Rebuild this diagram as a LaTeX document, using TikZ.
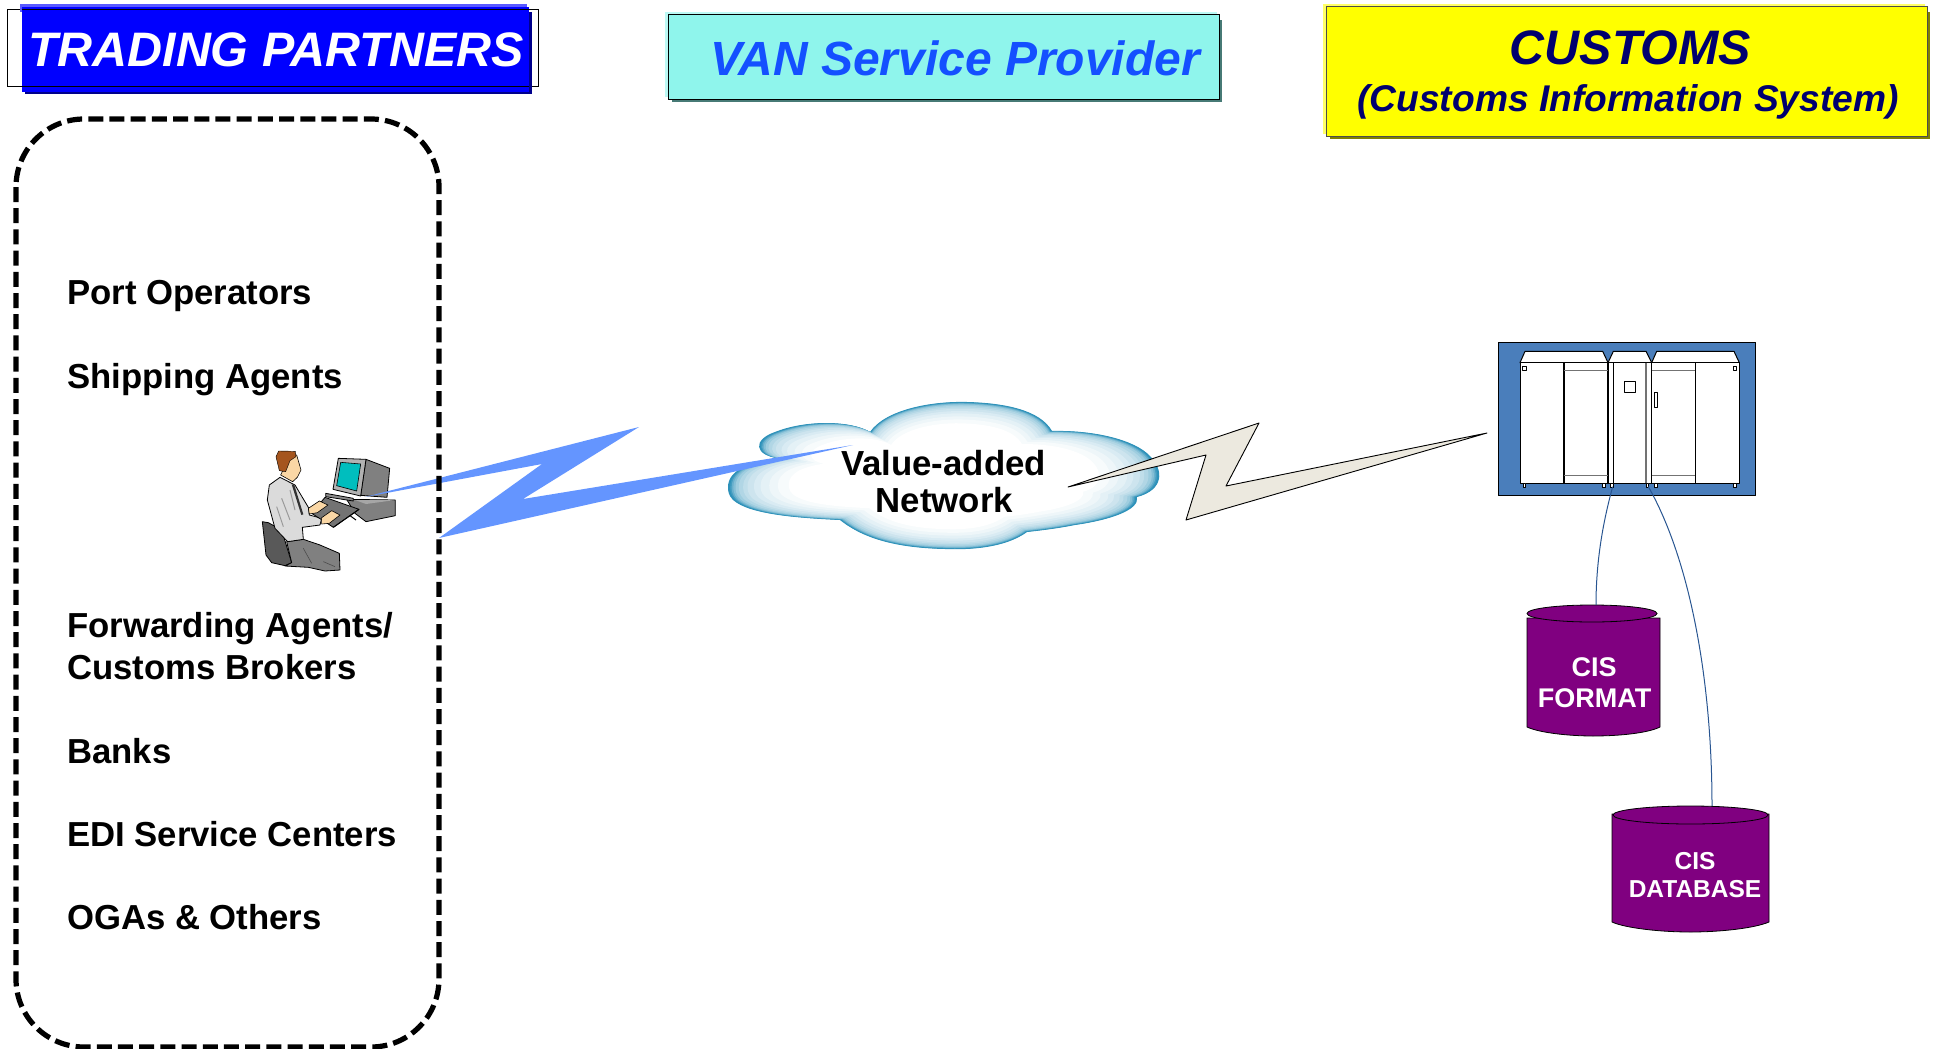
\documentclass[tikz,border=0pt]{standalone}
\usepackage{fontspec}
\setmainfont{Liberation Sans}
\definecolor{cloudedge}{RGB}{45,145,185}
\definecolor{boltblue}{RGB}{100,149,255}
\definecolor{boltgrey}{RGB}{236,233,223}
\definecolor{srvblue}{RGB}{74,126,187}
\definecolor{vanfill}{RGB}{143,245,236}
\definecolor{vantext}{RGB}{20,80,255}
\definecolor{custtext}{RGB}{0,0,110}
\definecolor{cylpurple}{RGB}{128,0,128}
\definecolor{linkblue}{RGB}{40,85,145}
\definecolor{pureyellow}{RGB}{255,255,0}
\definecolor{screenteal}{RGB}{0,190,190}
\definecolor{skin}{RGB}{250,215,165}
\definecolor{hair}{RGB}{165,85,30}
\newcommand{\fs}[1]{\fontsize{#1}{#1}\selectfont}
\tikzset{
  lab/.style={anchor=base west,inner sep=0pt,font=\fs{34.7}\bfseries,text=black},
  title/.style={anchor=base,inner sep=0pt,font=\fs{48.4}\bfseries\itshape},
  cyltxt/.style={anchor=base,inner sep=0pt,text=white},
  cyl/.style={fill=cylpurple,draw=black,line width=.8pt},
  link/.style={draw=linkblue,line width=1pt},
  ol/.style={draw=black,line width=.9pt,line join=round},
  srvline/.style={draw=black,line width=1pt},
  foot/.style={draw=black,fill=white,line width=.6pt}
}
\begin{document}
\begin{tikzpicture}[x=1pt,y=-1pt]
\useasboundingbox (0,0) rectangle (1933,1049);
% title boxes
\draw[black,line width=.8pt,fill=white] (7.5,9) rectangle (538,86.3);
\fill[blue!55!black] (25,12) rectangle (532,94);
\fill[blue!65!white] (20,4) rectangle (527,12);
\fill[blue] (22,7) rectangle (529,92);
\draw[black,line width=.8pt] (22,9) -- (529,9) (22,86.3) -- (529,86.3);
\node[title,text=white] (tp) at (276,66.5) {TRADING PARTNERS};

\fill[vanfill!60!white] (665,12) rectangle (1217,97);
\fill[vanfill!50!black] (672,20) rectangle (1222,101.7);
\draw[fill=vanfill,draw=black,line width=.9pt] (668,14.3) rectangle (1219,99.3);
\node[title,font=\fs{48}\bfseries\itshape,text=vantext] (van) at (955,76) {VAN Service Provider};

\fill[pureyellow!60!white] (1323,4) rectangle (1925,134);
\fill[pureyellow!50!black] (1330,12) rectangle (1930,138.5);
\draw[fill=pureyellow,draw=black!70,line width=1pt] (1326,6.7) rectangle (1927,136);
\node[title,text=custtext] (cust) at (1630.5,64) {CUSTOMS};
\node[anchor=base,inner sep=0pt,font=\fs{37.2}\bfseries\itshape,text=custtext] (cis) at (1628,111.7) {(Customs Information System)};

% cloud
\foreach \s/\p in {1/100,.995/100,.99/90,.983/72,.975/58,.965/46,.95/37,.93/30,.91/24,.88/18,.85/13,.81/8,.77/4,.72/0}{
\begin{scope}[shift={(945,478)},scale=\s,shift={(-945,-478)}]
\fill[cloudedge!\p!white] (728,487)
 .. controls (728,470) and (750,462) .. (777,458)
 .. controls (755,455) and (752,440) .. (775,432)
 .. controls (805,420) and (850,420) .. (870,432)
 .. controls (885,410) and (930,401) .. (967,402)
 .. controls (1005,403) and (1040,410) .. (1052,431)
 .. controls (1095,430) and (1135,440) .. (1150,456)
 .. controls (1164,470) and (1164,490) .. (1137,497)
 .. controls (1140,510) and (1110,520) .. (1075,525)
 .. controls (1060,528) and (1045,530) .. (1027,532)
 .. controls (1005,548) and (970,550) .. (945,549)
 .. controls (900,548) and (865,540) .. (840,520)
 .. controls (800,518) and (750,515) .. (733,500)
 .. controls (728,495) and (728,490) .. cycle;
\end{scope}}

% operator clip art
\begin{scope}[shift={(240,420)},x=.33333pt,y=-.33333pt,line join=round]
% chair
\fill[black!65,draw=black,line width=.8pt] (67,305) -- (85,308) -- (125,330) -- (155,428) -- (135,437) -- (95,428) -- (78,405) -- cycle;
% trousers
\fill[black!50,draw=black,line width=.8pt] (140,365) -- (190,358) -- (240,375) -- (298,400) -- (300,450) -- (255,453) -- (205,442) -- (135,438) -- (155,428) -- cycle;
\draw[black!70,line width=.6pt] (250,425) -- (285,440) (190,385) -- (215,430);
% shirt
\fill[black!14,draw=black,line width=.8pt] (120,172) -- (88,195) -- (82,240) -- (105,325) -- (143,365) -- (190,358) -- (187,322) -- (240,315) -- (245,295) -- (208,285) -- (205,262) -- (165,195) -- cycle;
\draw[black!40,line width=1pt] (125,235) -- (150,300) (150,210) -- (165,270) (110,260) -- (130,320);
\fill[black!80] (155,193) -- (163,195) -- (190,283) -- (184,285) -- cycle;
% head
\fill[skin,draw=black,line width=.6pt] (150,105) -- (170,105) -- (183,150) -- (172,172) -- (158,185) -- (122,165) -- cycle;
\fill[hair,draw=black,line width=.4pt] (108,110) -- (116,93) -- (166,94) -- (168,110) -- (150,122) -- (137,155) -- (118,152) -- cycle;
% monitor
\fill[black!50,draw=black,line width=.8pt] (378,118) -- (449,145) -- (441,232) -- (362,226) -- cycle;
\fill[black!30,draw=black,line width=.8pt] (295,115) -- (378,118) -- (362,228) -- (279,208) -- cycle;
\fill[screenteal,draw=black,line width=.6pt] (302,127) -- (362,132) -- (350,213) -- (290,197) -- cycle;
% base box
\fill[black!50,draw=black,line width=.8pt] (320,238) -- (466,240) -- (466,287) -- (378,305) -- (345,280) -- cycle;
\fill[black!35] (345,240) -- (466,240) -- (378,252) -- cycle;
% keyboard tray
\fill[black!45,draw=black,line width=.8pt] (257,220) -- (340,235) -- (340,243) -- (257,230) -- cycle;
\fill[black!55,draw=black,line width=.8pt] (255,232) -- (357,268) -- (280,322) -- (265,312) -- (215,280) -- cycle;
\draw[black,line width=1pt] (357,268) -- (280,322) (330,287) -- (348,300);
% hands
\fill[skin,draw=black,line width=.6pt] (205,265) -- (238,243) -- (264,255) -- (232,278) -- (208,282) -- cycle;
\fill[skin,draw=black,line width=.6pt] (245,293) -- (275,272) -- (300,285) -- (268,310) -- (245,312) -- cycle;
\end{scope}
\coordinate (pc) at (365,497);

% server
\begin{scope}[shift={(1480,330)},x=.33333pt,y=-.33333pt,line join=round]
\fill[srvblue,draw=black,line width=.8pt] (54,36) rectangle (827,497);
\fill[white,srvline] (120,98) -- (135,64) -- (368,64) -- (384,98) -- cycle;
\fill[white,srvline] (384,98) -- (400,64) -- (498,64) -- (515,98) -- cycle;
\fill[white,srvline] (515,98) -- (530,64) -- (762,64) -- (778,98) -- cycle;
\fill[white,srvline] (120,98) rectangle (778,460);
\draw[srvline,line width=1.3pt] (252,98) -- (252,460) (384,98) -- (384,460) (400,98) -- (400,460) (515,98) -- (515,460) (646,98) -- (646,460);
\draw[black!55,line width=1.8pt] (498,98) -- (498,460);
\draw[black!55,line width=1pt] (252,120) -- (384,120) (515,120) -- (646,120) (252,436) -- (384,436) (515,436) -- (646,436);
\draw[foot] (432,153) rectangle (467,188);
\draw[foot] (523,187) rectangle (531,233);
\foreach \a in {133,765}{\draw[foot] (\a-5,108) rectangle (\a+5,120);}
\foreach \a in {133,371,396,502,527,765}{\draw[foot] (\a-4,459) rectangle (\a+4,471);}
\coordinate (foota) at (398,470);
\coordinate (footb) at (505,470);
\end{scope}

% bolts
\coordinate (cloudl) at (853,445);
\coordinate (cloudr) at (1068,487);
\coordinate (srvtip) at (1487,433);
\fill[boltblue] (pc) -- (639,427) -- (523,499) -- (cloudl) -- (439,538) -- (542,464) -- cycle;
\filldraw[fill=boltgrey,ol] (cloudr) -- (1259,423) -- (1226,486) -- (srvtip) -- (1186,520) -- (1206,455) -- cycle;

% dashed box
\draw[black,line width=5.2pt,dash pattern=on 15pt off 6.2pt,rounded corners=68pt] (16,119) rectangle (439,1047);
\node[lab] (l1) at (67,304) {Port Operators};
\node[lab] (l2) at (67,388) {Shipping Agents};
\node[lab] (l3) at (67,637) {Forwarding Agents/};
\node[lab] (l4) at (67,679) {Customs Brokers};
\node[lab] (l5) at (67,763) {Banks};
\node[lab] (l6) at (67,846) {EDI Service Centers};
\node[lab] (l7) at (67,929) {OGAs \& Others};

\node[anchor=base,inner sep=0pt,font=\fs{34.8}\bfseries] (va) at (943.5,475) {Value-added};
\node[anchor=base,inner sep=0pt,font=\fs{34.8}\bfseries] (nw) at (944.5,512) {Network};

% cylinders
\fill[cyl] (1527,618) -- (1527,727) .. controls (1540,733) and (1570,736) .. (1593,736) .. controls (1620,736) and (1648,733) .. (1660,727) -- (1660,618) -- cycle;
\draw[cyl] (1592,613.5) ellipse [x radius=65,y radius=8.5];
\node[cyltxt,font=\fs{27}\bfseries] (f1) at (1594,676) {CIS};
\node[cyltxt,font=\fs{27}\bfseries] (f2) at (1594.5,707) {FORMAT};
\coordinate (fmttop) at (1596,605);

\fill[cyl] (1612,814) -- (1612,922) .. controls (1625,928) and (1660,932) .. (1690,932) .. controls (1722,932) and (1755,928) .. (1769,922) -- (1769,814) -- cycle;
\draw[cyl] (1690.5,815) ellipse [x radius=77.5,y radius=9];
\node[cyltxt,font=\fs{24.5}\bfseries] (d1) at (1695,869) {CIS};
\node[cyltxt,font=\fs{24.5}\bfseries] (d2) at (1695,897) {DATABASE};
\coordinate (dbtop) at (1712,806);

% connectors
\draw[link] (foota) .. controls (1605,515) and (1596,555) .. (fmttop);
\draw[link] (footb) .. controls (1690,560) and (1712,680) .. (dbtop);
\end{tikzpicture}
\end{document}
